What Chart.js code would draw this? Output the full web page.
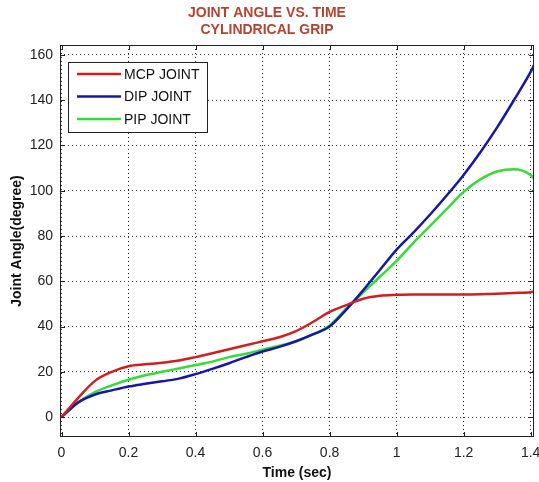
<!DOCTYPE html>
<html>
<head>
<meta charset="utf-8">
<script src="https://cdn.jsdelivr.net/npm/chart.js@4"></script>
<style>
  html, body { margin: 0; padding: 0; background: #fff; }
  #wrap { position: relative; width: 539px; height: 482px; }
</style>
</head>
<body>
<div id="wrap"><canvas id="angle-chart"></canvas></div>
<script>
// time samples (sec)
var time = [0, 0.05, 0.1, 0.15, 0.2, 0.25, 0.3, 0.35, 0.4, 0.45, 0.5, 0.55, 0.6, 0.65, 0.7, 0.75,
  0.8, 0.85, 0.9, 0.95, 1.0, 1.05, 1.1, 1.15, 1.2, 1.25, 1.3, 1.35, 1.4, 1.41];
var mcp = [0, 8.5, 16, 20, 22.5, 23.3, 24, 25, 26.5, 28.2, 30, 31.7, 33.5, 35.3, 38, 42,
  46.5, 49.5, 52.3, 53.6, 54, 54.2, 54.2, 54.2, 54.2, 54.3, 54.5, 54.8, 55.2, 55.4];
var dip = [0, 6.5, 10, 11.8, 13.5, 14.7, 15.8, 17, 19, 21.3, 23.8, 26.5, 29, 31, 33.5, 36.5,
  40, 47.5, 56, 65, 74, 81.5, 89.5, 98, 107, 117, 128, 140, 152.5, 155.5];
var pip = [0, 6.5, 11, 14, 16.5, 18.5, 20, 21.5, 23, 24.5, 26.5, 28, 29.8, 31.5, 33.5, 36.5,
  40.5, 48, 55, 62, 69, 77, 84.5, 92, 99.5, 105, 108.5, 109.5, 107, 105.5];
var seriesNames = ["MCP JOINT", "DIP JOINT", "PIP JOINT"];
var xTicks = [0, 0.2, 0.4, 0.6, 0.8, 1, 1.2, 1.4];
var yTicks = [0, 20, 40, 60, 80, 100, 120, 140, 160];

function pts(ys) {
  return time.map(function (t, i) { return { x: t, y: ys[i] }; });
}

// box, inner tick marks and legend drawn MATLAB style
var matlabFrame = {
  id: "matlabFrame",
  afterDatasetsDraw: function (chart) {
    var ctx = chart.ctx;
    var a = chart.chartArea;
    var xs = chart.scales.x, ys = chart.scales.y;
    ctx.save();
    ctx.strokeStyle = "#222";
    ctx.lineWidth = 1;
    ctx.strokeRect(a.left + 0.5, a.top + 0.5, a.right - a.left - 1, a.bottom - a.top - 1);
    ctx.beginPath();
    xTicks.forEach(function (v) {
      var px = Math.round(xs.getPixelForValue(v)) + 0.5;
      ctx.moveTo(px, a.bottom); ctx.lineTo(px, a.bottom - 5);
      ctx.moveTo(px, a.top); ctx.lineTo(px, a.top + 5);
    });
    yTicks.forEach(function (v) {
      var py = Math.round(ys.getPixelForValue(v)) + 0.5;
      ctx.moveTo(a.left, py); ctx.lineTo(a.left + 5, py);
      ctx.moveTo(a.right, py); ctx.lineTo(a.right - 5, py);
    });
    ctx.stroke();

    // legend
    var bx = 68, by = 62, bw = 139, bh = 70;
    ctx.fillStyle = "#fff";
    ctx.fillRect(bx, by, bw, bh);
    ctx.strokeStyle = "#222";
    ctx.strokeRect(bx + 0.5, by + 0.5, bw, bh);
    ctx.font = "14px 'Liberation Sans', Arial, sans-serif";
    ctx.textBaseline = "middle";
    chart.data.datasets.forEach(function (ds, i) {
      var y = by + 12 + i * 22.5;
      ctx.strokeStyle = ds.borderColor;
      ctx.lineWidth = 2.5;
      ctx.beginPath();
      ctx.moveTo(bx + 9, y); ctx.lineTo(bx + 53, y);
      ctx.stroke();
      ctx.fillStyle = "#111";
      ctx.fillText(ds.label, bx + 56, y + 1);
    });
    ctx.restore();
  }
};

var tickFont = { family: "'Liberation Sans', Arial, sans-serif", size: 14 };
var titleFont = { family: "'Liberation Sans', Arial, sans-serif", size: 14, weight: "bold" };

var config = {
  type: "line",
  data: {
    datasets: [
      { label: seriesNames[0], data: pts(mcp), borderColor: "#d21e1e" },
      { label: seriesNames[1], data: pts(dip), borderColor: "#1616a8" },
      { label: seriesNames[2], data: pts(pip), borderColor: "#35dc35" }
    ]
  },
  options: {
    responsive: true,
    maintainAspectRatio: false,
    animation: false,
    layout: { padding: { left: 0, right: 5, top: 0, bottom: 0 } },
    elements: {
      point: { radius: 0 },
      line: { borderWidth: 2.5, cubicInterpolationMode: "monotone", fill: false }
    },
    plugins: {
      legend: { display: false },
      tooltip: { enabled: false },
      title: {
        display: true,
        text: ["JOINT ANGLE VS. TIME", "CYLINDRICAL GRIP"],
        color: "#b5432f",
        font: { family: "'Liberation Sans', Arial, sans-serif", size: 14, weight: "bold", lineHeight: 1.2143 },
        padding: { top: 4.5, bottom: 6.5 }
      }
    },
    scales: {
      x: {
        type: "linear",
        min: -0.0045,
        max: 1.41,
        afterBuildTicks: function (s) { s.ticks = xTicks.map(function (v) { return { value: v }; }); },
        afterFit: function (s) { s.height = 45; s.paddingLeft = 0; s.paddingRight = 0; },
        ticks: { color: "#222", font: tickFont, padding: 8, maxRotation: 0,
          callback: function (v) { return String(v); } },
        grid: { color: "#333", drawTicks: false },
        border: { display: false, dash: [1, 3] },
        title: { display: true, text: "Time (sec)", color: "#111", font: titleFont, padding: { top: 8, bottom: 0 } }
      },
      y: {
        min: -8.8,
        max: 164.4,
        afterBuildTicks: function (s) { s.ticks = yTicks.map(function (v) { return { value: v }; }); },
        afterFit: function (s) { s.width = 60; s.paddingTop = 0; s.paddingBottom = 0; },
        ticks: { color: "#222", font: tickFont, padding: 7 },
        grid: { color: "#333", drawTicks: false },
        border: { display: false, dash: [1, 3] },
        title: { display: true, text: "Joint Angle(degree)", color: "#111", font: titleFont, padding: { top: 9, bottom: 0 } }
      }
    }
  },
  plugins: [matlabFrame]
};

var ctx = document.getElementById("angle-chart").getContext("2d");
window.angleChart = new Chart(ctx, config);
</script>
</body>
</html>
